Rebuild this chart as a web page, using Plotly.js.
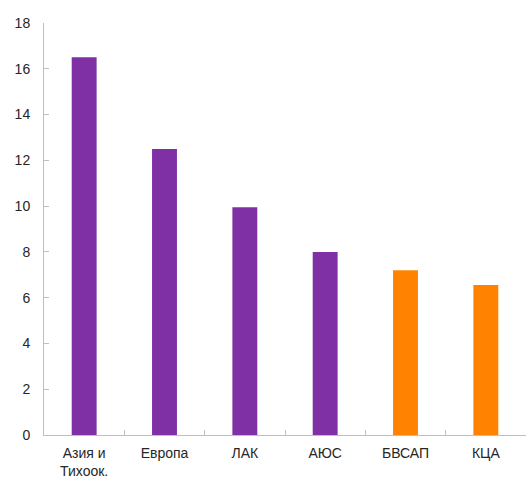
<!DOCTYPE html>
<html>
<head>
<meta charset="utf-8">
<script src="https://cdn.plot.ly/plotly-3.0.1.min.js"></script>
<style>html,body{margin:0;padding:0;background:#fff}#chart{width:526px;height:479px}</style>
</head>
<body>
<div id="chart"></div>
<script>
const categories = ["Азия и<br>Тихоок.", "Европа", "ЛАК", "АЮС", "БВСАП", "КЦА"];
const values = [16.5, 12.5, 9.95, 8.0, 7.2, 6.55];
const barColors = ["#7F30A5", "#7F30A5", "#7F30A5", "#7F30A5", "#FF8300", "#FF8300"];
const yTicks = [0, 2, 4, 6, 8, 10, 12, 14, 16, 18];

const trace = {
  type: "bar",
  x: categories,
  y: values,
  marker: {color: barColors, line: {width: 0}},
  hoverinfo: "x+y"
};

const layout = {
  width: 526,
  height: 479,
  margin: {l: 44, r: 0, t: 23, b: 44, pad: 0},
  paper_bgcolor: "#fff",
  plot_bgcolor: "#fff",
  showlegend: false,
  bargap: 0.69,
  font: {family: "Liberation Sans, Arial, sans-serif", size: 14, color: "#262626"},
  xaxis: {
    type: "category",
    showline: true,
    linecolor: "#BFBFBF",
    linewidth: 1,
    ticks: "inside",
    tickson: "boundaries",
    ticklen: 5,
    tickcolor: "#BFBFBF",
    showgrid: false,
    zeroline: false,
    ticklabelstandoff: 5,
    tickfont: {size: 14, color: "#262626"}
  },
  yaxis: {
    range: [0, 18],
    tickvals: yTicks,
    ticktext: yTicks.map(String),
    showline: true,
    linecolor: "#BFBFBF",
    linewidth: 1,
    ticks: "inside",
    ticklen: 5,
    tickcolor: "#BFBFBF",
    showgrid: false,
    zeroline: false,
    ticklabelstandoff: 10,
    tickfont: {size: 14, color: "#262626"}
  }
};

Plotly.newPlot("chart", [trace], layout, {displayModeBar: false, staticPlot: true});
</script>
</body>
</html>
